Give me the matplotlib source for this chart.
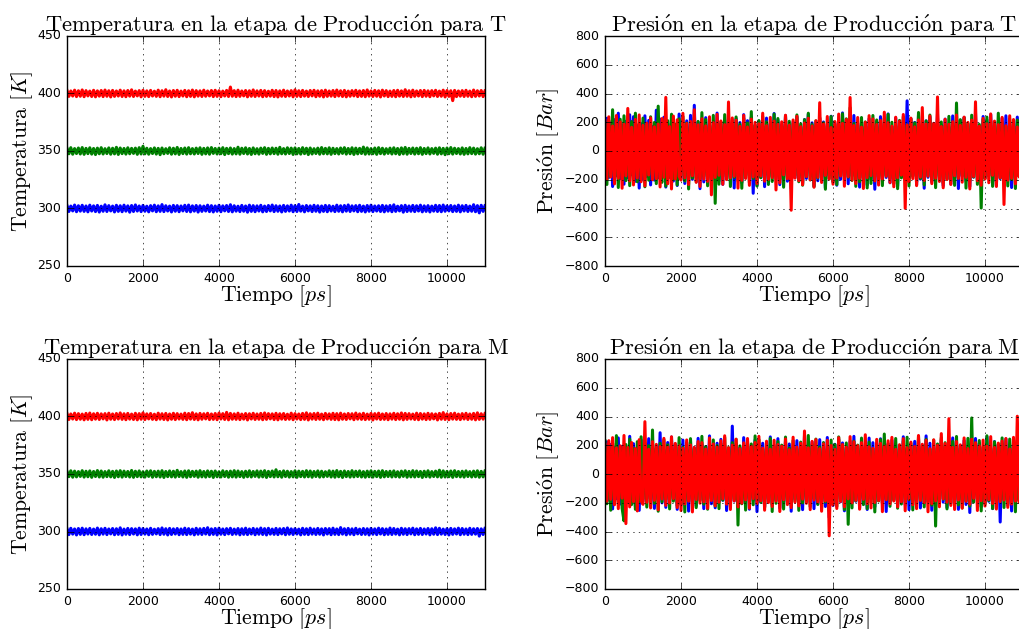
import matplotlib
matplotlib.use("Agg")
import matplotlib.pyplot as plt
import numpy as np

# ---- Temperature series [K], sampled every 50 ps ----
temp_T_300 = [
    302.6, 297.4, 302.1, 297.9, 303.0, 297.2, 302.4, 297.7, 302.8, 297.5,
    302.2, 297.1, 302.9, 297.8, 302.3, 297.3, 302.7, 296.9, 302.0, 297.6,
    303.2, 297.4, 302.5, 297.9, 302.1, 297.0, 302.8, 297.5, 302.4, 297.2,
    302.9, 297.7, 302.3, 296.8, 302.6, 297.4, 303.1, 297.8, 302.2, 297.3,
    302.7, 297.6, 302.0, 297.1, 302.5, 297.9, 302.9, 297.2, 302.3, 297.5,
    303.4, 297.3, 302.4, 297.8, 302.1, 297.0, 302.7, 297.6, 302.5, 297.2,
    302.2, 297.9, 302.8, 297.4, 303.0, 297.1, 302.3, 297.7, 302.6, 296.9,
    302.4, 297.5, 302.1, 297.8, 302.9, 297.3, 302.5, 297.0, 302.2, 297.6,
    302.8, 297.2, 302.3, 297.9, 302.6, 297.4, 303.3, 297.1, 302.4, 297.7,
    302.0, 297.3, 302.7, 297.6, 302.2, 296.8, 302.9, 297.5, 302.5, 297.2,
    302.3, 297.8, 302.8, 297.1, 302.1, 297.4, 302.6, 297.9, 303.0, 297.3,
    302.4, 297.6, 302.2, 297.0, 302.7, 297.5, 302.3, 297.8, 302.9, 297.2,
    302.5, 297.4, 303.5, 297.7, 302.1, 297.1, 302.6, 297.9, 302.3, 297.3,
    302.8, 297.6, 302.4, 296.9, 302.2, 297.5, 302.7, 297.2, 302.5, 297.8,
    302.0, 297.3, 302.9, 297.6, 302.4, 297.1, 302.6, 297.7, 303.1, 297.4,
    302.3, 297.9, 302.5, 297.2, 302.8, 297.5, 302.1, 297.0, 302.6, 297.6,
    302.9, 297.3, 302.2, 297.8, 302.4, 297.4, 302.7, 297.1, 302.3, 297.7,
    302.6, 297.2, 303.2, 297.5, 302.0, 297.9, 302.5, 296.8, 302.8, 297.4,
    302.2, 297.6, 302.7, 297.3, 302.4, 297.8, 302.9, 297.1, 302.3, 297.5,
    302.5, 297.0, 302.1, 297.7, 302.8, 297.4, 302.6, 297.2, 303.0, 297.6,
    302.3, 297.9, 302.6, 297.3, 302.2, 297.5, 302.9, 297.1, 302.4, 297.8,
    302.7, 297.4, 302.1, 297.6, 303.3, 297.2, 302.5, 296.2, 302.8, 297.5,
    302.4,
]
temp_T_350 = [
    352.4, 347.6, 352.9, 347.2, 352.1, 347.8, 352.6, 347.4, 353.0, 347.1,
    352.3, 347.7, 352.8, 347.3, 352.2, 346.9, 352.5, 347.6, 352.9, 347.4,
    352.0, 347.8, 352.7, 347.2, 352.4, 347.5, 353.2, 347.0, 352.6, 347.7,
    352.2, 347.3, 352.8, 347.6, 352.3, 347.9, 352.5, 347.1, 352.9, 347.4,
    354.1, 347.5, 352.4, 347.2, 352.1, 347.8, 352.7, 347.3, 352.3, 346.8,
    352.6, 347.6, 352.0, 347.9, 352.8, 347.2, 352.4, 347.5, 353.1, 347.0,
    352.2, 347.7, 352.6, 347.3, 352.9, 347.6, 352.1, 347.4, 352.5, 347.8,
    352.8, 347.1, 352.3, 347.5, 352.7, 347.2, 353.0, 347.9, 352.2, 347.4,
    352.5, 347.6, 352.9, 346.9, 352.3, 347.7, 352.6, 347.3, 352.1, 347.5,
    353.3, 347.2, 352.4, 347.8, 352.8, 347.4, 352.2, 347.0, 352.7, 347.6,
    352.0, 347.3, 352.5, 347.9, 352.9, 347.1, 352.3, 347.5, 352.6, 347.7,
    352.4, 347.2, 353.2, 347.6, 352.1, 347.4, 352.8, 347.8, 352.5, 347.0,
    352.7, 347.5, 352.2, 347.3, 352.9, 347.7, 352.4, 346.9, 352.6, 347.4,
    352.0, 347.8, 352.5, 347.2, 353.0, 347.6, 352.3, 347.5, 352.8, 347.1,
    352.4, 347.7, 352.1, 347.4, 352.6, 347.9, 352.9, 347.3, 352.2, 347.6,
    352.8, 347.0, 352.5, 347.5, 352.3, 347.8, 353.4, 347.2, 352.7, 347.4,
    352.1, 347.6, 352.6, 347.1, 352.9, 347.7, 352.4, 347.3, 352.0, 347.9,
    352.5, 347.4, 352.8, 347.6, 352.2, 347.0, 352.7, 347.5, 353.1, 347.2,
    352.3, 347.8, 352.6, 347.3, 352.4, 347.6, 352.9, 347.1, 352.2, 347.7,
    352.7, 347.4, 352.1, 347.9, 352.5, 347.2, 352.8, 347.5, 352.3, 346.8,
    352.6, 347.6, 353.0, 347.3, 352.4, 347.8, 352.1, 347.4, 352.7, 347.1,
    352.2, 347.5, 352.9, 347.7, 352.5, 347.3, 352.0, 347.6, 352.8, 347.2,
    352.4,
]
temp_T_400 = [
    402.7, 397.5, 402.2, 397.8, 402.9, 397.3, 402.4, 397.6, 403.1, 397.2,
    402.5, 397.9, 402.1, 397.4, 402.8, 397.1, 402.3, 397.7, 402.6, 397.3,
    403.0, 397.6, 402.4, 397.0, 402.7, 397.5, 402.2, 397.8, 402.9, 397.4,
    402.3, 397.2, 402.6, 397.7, 403.2, 397.4, 402.1, 397.9, 402.5, 397.1,
    402.8, 397.5, 402.3, 397.3, 402.7, 397.8, 402.0, 397.5, 402.9, 397.2,
    402.4, 397.7, 403.3, 397.4, 402.2, 397.0, 402.6, 397.6, 402.8, 397.3,
    402.1, 397.8, 402.7, 397.2, 402.4, 397.5, 403.0, 397.1, 402.5, 397.7,
    402.3, 397.4, 402.9, 397.6, 402.2, 397.9, 402.6, 397.3, 402.8, 397.5,
    402.4, 397.2, 402.1, 397.8, 402.7, 397.4, 405.6, 397.6, 402.5, 397.3,
    402.9, 397.5, 402.2, 397.9, 402.6, 397.1, 402.4, 397.6, 403.1, 397.4,
    402.3, 397.8, 402.7, 397.2, 402.5, 397.5, 402.0, 397.7, 402.8, 397.3,
    402.6, 397.0, 402.3, 397.6, 402.9, 397.4, 402.2, 397.8, 402.5, 397.1,
    403.2, 397.5, 402.4, 397.3, 402.7, 397.7, 402.1, 397.4, 402.6, 397.9,
    402.8, 397.2, 402.3, 397.6, 402.5, 397.0, 402.9, 397.5, 402.2, 397.7,
    402.6, 397.3, 403.0, 397.8, 402.4, 397.4, 402.7, 397.1, 402.1, 397.6,
    402.5, 397.9, 402.8, 397.3, 402.3, 397.5, 402.6, 397.2, 403.1, 397.7,
    402.2, 397.4, 402.7, 397.6, 402.4, 397.0, 402.9, 397.8, 402.5, 397.3,
    402.1, 397.5, 402.6, 397.2, 402.8, 397.7, 402.3, 397.4, 403.3, 397.6,
    402.4, 397.1, 402.9, 397.5, 402.2, 397.8, 402.6, 397.3, 402.7, 397.6,
    402.3, 397.2, 402.5, 397.9, 402.8, 397.4, 402.1, 397.6, 402.9, 397.0,
    402.6, 397.5, 402.4, 393.8, 402.7, 397.3, 402.2, 397.7, 402.5, 397.4,
    402.8, 397.6, 402.1, 397.2, 403.0, 397.5, 402.4, 397.8, 402.6, 397.3,
    402.3,
]
temp_M_300 = [
    302.5, 297.3, 302.8, 297.7, 302.2, 297.0, 302.6, 297.5, 302.9, 297.2,
    302.3, 297.8, 302.7, 297.4, 302.1, 297.6, 303.0, 297.1, 302.4, 297.7,
    302.8, 297.3, 302.2, 297.9, 302.6, 297.2, 302.4, 297.5, 303.2, 297.0,
    302.1, 297.6, 302.7, 297.3, 302.5, 297.8, 302.3, 297.1, 302.9, 297.4,
    302.6, 297.7, 302.2, 297.2, 302.8, 297.5, 302.0, 297.9, 302.5, 297.3,
    303.1, 297.6, 302.4, 297.0, 302.7, 297.4, 302.3, 297.8, 302.6, 297.2,
    302.2, 297.5, 302.9, 297.3, 302.5, 297.7, 302.1, 297.1, 302.8, 297.6,
    302.4, 297.4, 302.7, 297.8, 303.3, 297.2, 302.3, 297.5, 302.6, 297.0,
    302.9, 297.6, 302.2, 297.3, 302.5, 297.9, 302.8, 297.4, 302.1, 297.7,
    302.6, 297.1, 302.4, 297.5, 302.9, 297.3, 302.2, 297.8, 302.7, 297.2,
    302.3, 297.6, 303.0, 297.4, 302.5, 297.0, 302.8, 297.7, 302.1, 297.5,
    302.7, 297.3, 302.4, 297.9, 302.6, 297.2, 303.1, 297.6, 302.3, 297.4,
    302.5, 297.8, 302.1, 297.1, 302.8, 297.5, 302.4, 297.3, 302.9, 297.7,
    302.2, 297.4, 302.7, 297.6, 302.3, 297.0, 302.6, 297.8, 302.5, 297.2,
    302.9, 297.5, 302.2, 297.3, 303.4, 297.7, 302.4, 297.1, 302.7, 297.6,
    302.3, 297.2, 302.8, 297.9, 302.1, 297.4, 302.6, 297.5, 302.4, 297.0,
    302.7, 297.6, 302.3, 297.3, 302.9, 297.8, 302.5, 297.2, 302.2, 297.5,
    303.0, 297.4, 302.6, 297.7, 302.1, 297.1, 302.8, 297.6, 302.4, 297.3,
    302.5, 297.9, 302.9, 297.2, 302.3, 297.5, 302.7, 297.4, 302.2, 297.8,
    302.6, 297.1, 302.4, 297.6, 303.2, 297.3, 302.8, 297.7, 302.1, 297.4,
    302.5, 297.0, 302.7, 297.5, 302.3, 297.8, 302.9, 297.2, 302.6, 297.6,
    302.2, 297.3, 302.8, 297.5, 302.4, 297.7, 302.6, 296.0, 302.3, 297.4,
    302.7,
]
temp_M_350 = [
    352.3, 347.7, 352.8, 347.2, 352.5, 347.5, 352.1, 347.9, 352.9, 347.3,
    352.4, 347.6, 352.7, 347.1, 352.2, 347.8, 353.0, 347.4, 352.6, 347.2,
    352.1, 347.7, 352.8, 347.5, 352.3, 347.0, 352.6, 347.6, 352.9, 347.3,
    352.5, 347.8, 352.2, 347.4, 353.1, 347.1, 352.4, 347.7, 352.7, 347.5,
    352.0, 347.3, 352.6, 347.9, 352.8, 347.2, 352.3, 347.6, 352.5, 347.4,
    352.9, 347.0, 352.2, 347.7, 352.7, 347.5, 352.4, 347.3, 353.2, 347.8,
    352.1, 347.4, 352.6, 347.1, 352.8, 347.6, 352.3, 347.9, 352.5, 347.2,
    352.9, 347.5, 352.2, 347.3, 352.7, 347.7, 352.4, 347.0, 352.6, 347.6,
    352.0, 347.4, 352.8, 347.8, 352.3, 347.2, 352.5, 347.5, 352.9, 347.3,
    352.6, 347.7, 352.1, 347.1, 352.4, 347.6, 352.8, 347.4, 352.2, 347.9,
    352.7, 347.3, 352.5, 347.5, 352.9, 347.0, 352.3, 347.7, 352.6, 347.4,
    353.7, 347.6, 352.2, 347.2, 352.7, 347.8, 352.4, 347.3, 352.1, 347.5,
    352.8, 347.1, 352.5, 347.7, 352.3, 347.4, 352.9, 347.6, 352.6, 347.2,
    352.2, 347.8, 352.7, 347.3, 352.4, 347.5, 352.0, 347.9, 352.8, 347.4,
    352.5, 347.2, 353.0, 347.6, 352.3, 347.0, 352.6, 347.7, 352.2, 347.3,
    352.9, 347.5, 352.4, 347.8, 352.7, 347.4, 352.1, 347.2, 352.5, 347.6,
    352.8, 347.3, 352.3, 347.7, 352.6, 347.1, 352.9, 347.5, 352.2, 347.8,
    352.4, 347.4, 352.7, 347.6, 352.0, 347.3, 352.5, 347.9, 352.8, 347.2,
    352.3, 347.5, 352.9, 347.4, 352.6, 347.7, 352.2, 347.0, 352.4, 347.6,
    352.8, 347.3, 352.1, 347.8, 352.5, 347.5, 353.3, 347.2, 352.7, 347.4,
    352.3, 347.6, 352.6, 347.1, 352.9, 347.7, 352.2, 347.5, 352.4, 347.3,
    352.7, 347.8, 352.1, 347.4, 352.5, 347.6, 352.8, 347.2, 352.3, 347.5,
    352.6,
]
temp_M_400 = [
    402.6, 397.4, 402.2, 397.8, 402.9, 397.3, 402.5, 397.6, 402.1, 397.1,
    402.7, 397.5, 403.0, 397.2, 402.4, 397.7, 402.8, 397.4, 402.3, 397.9,
    402.5, 397.0, 402.9, 397.6, 402.2, 397.3, 402.6, 397.8, 403.1, 397.5,
    402.4, 397.2, 402.7, 397.7, 402.1, 397.4, 402.8, 397.1, 402.5, 397.6,
    403.2, 397.3, 402.3, 397.9, 402.6, 397.5, 402.0, 397.2, 402.9, 397.7,
    402.4, 397.4, 402.7, 397.0, 402.2, 397.6, 402.8, 397.3, 402.5, 397.8,
    402.1, 397.5, 402.9, 397.2, 402.6, 397.7, 403.3, 397.4, 402.3, 397.1,
    402.7, 397.6, 402.4, 397.9, 402.8, 397.3, 402.2, 397.5, 402.6, 397.2,
    403.0, 397.8, 402.5, 397.4, 403.6, 397.1, 402.7, 397.6, 402.3, 397.5,
    402.9, 397.3, 402.1, 397.7, 402.6, 397.0, 402.4, 397.8, 402.8, 397.4,
    402.2, 397.6, 402.7, 397.2, 403.1, 397.5, 402.5, 397.9, 402.3, 397.3,
    402.8, 397.1, 402.4, 397.7, 402.6, 397.4, 402.0, 397.6, 402.9, 397.2,
    402.5, 397.8, 402.2, 397.3, 402.7, 397.5, 403.2, 397.0, 402.4, 397.7,
    402.6, 397.4, 402.9, 397.6, 402.1, 397.2, 402.7, 397.8, 402.3, 397.5,
    402.8, 397.3, 402.5, 397.1, 402.9, 397.6, 402.2, 397.4, 402.6, 397.9,
    402.4, 397.2, 403.0, 397.7, 402.3, 397.5, 402.8, 397.3, 402.1, 397.6,
    402.7, 397.0, 402.5, 397.8, 402.9, 397.4, 402.2, 397.5, 402.6, 397.2,
    402.3, 397.7, 402.8, 397.3, 402.4, 397.6, 403.1, 397.1, 402.7, 397.5,
    402.5, 397.8, 402.1, 397.4, 402.9, 397.2, 402.6, 397.7, 402.3, 397.3,
    402.8, 397.5, 402.4, 397.9, 402.2, 397.0, 402.7, 397.6, 403.4, 397.4,
    402.3, 397.2, 402.6, 397.7, 402.9, 397.5, 402.1, 397.3, 402.5, 397.8,
    402.8, 397.4, 402.2, 397.6, 402.7, 397.1, 403.2, 397.5, 402.4, 397.7,
    402.6,
]

# ---- Pressure series [Bar], sampled every 50 ps ----
press_T_blue = [
    -205, 228, -184, 196, -247, 218, -172, 263, -193, 181,
    -231, 207, -188, 252, -165, 239, -211, 176, -258, 190,
    -199, 245, -178, 213, -236, 171, -203, 284, -187, 222,
    -169, 235, -251, 194, -182, 227, -209, 166, -240, 257,
    -191, 183, -226, 210, -174, 248, -197, 318, -185, 201,
    -262, 173, -215, 232, -189, 205, -243, 178, -170, 264,
    -208, 189, -232, 216, -181, 241, -193, 169, -257, 225,
    -176, 198, -221, 253, -187, 211, -167, 236, -294, 182,
    -239, 207, -185, 173, -248, 229, -202, 192, -178, 261,
    -195, 216, -234, 184, -171, 245, -210, 179, -263, 203,
    -186, 237, -199, 168, -226, 219, -191, 255, -175, 196,
    -244, 177, -207, 231, -183, 202, -256, 188, -169, 242,
    -212, 194, -238, 174, -197, 265, -180, 209, -228, 186,
    -173, 247, -204, 191, -251, 213, -187, 170, -236, 225,
    -198, 182, -266, 206, -176, 239, -209, 195, -184, 258,
    -221, 171, -193, 230, -245, 187, -178, 214, -202, 349,
    -188, 226, -170, 199, -235, 248, -196, 175, -259, 210,
    -183, 237, -215, 190, -173, 256, -204, 181, -242, 222,
    -194, 167, -229, 244, -187, 201, -261, 214, -176, 233,
    -208, 185, -247, 196, -182, 262, -199, 172, -224, 240,
    -189, 218, -171, 253, -213, 179, -238, 206, -192, 227,
    -177, 245, -201, 183, -254, 210, -186, 236, -169, 198,
    -215,
]
press_T_green = [
    198, -233, 214, -177, 287, -195, 182, -254, 221, -169,
    245, -206, 173, -241, 205, -188, 263, -214, 191, -176,
    229, -249, 185, -203, 238, -171, 199, -227, 312, -190,
    -218, 176, -245, 211, -183, 256, -198, 187, -236, 224,
    -172, 241, -209, 194, -264, 179, -188, 232, -215, 206,
    -189, 267, -175, 219, -242, 183, -201, 248, -364, 190,
    -231, 204, -178, 253, -196, 172, -247, 216, -184, 237,
    -207, 186, -259, 228, -173, 195, -220, 274, -191, 178,
    -244, 212, -186, 239, -169, 203, -233, 185, -212, 257,
    -178, 226, -196, 173, -252, 244, -183, 207, -228, 192,
    -170, 251, -214, 189, -238, 218, -175, 263, -201, 184,
    -249, 209, -187, 231, -179, 196, -266, 175, -193, 240,
    -216, 183, -234, 205, -171, 259, -198, 224, -182, 301,
    -205, 191, -246, 177, -214, 233, -189, 202, -257, 169,
    -226, 247, -180, 216, -195, 186, -241, 228, -173, 255,
    -190, 200, -229, 174, -262, 213, -187, 239, -206, 181,
    -243, 222, -178, 196, -215, 268, -191, 184, -236, 209,
    -174, 250, -203, 188, -255, 227, -182, 202, -224, 176,
    -197, 241, -211, 175, -239, 334, -186, 218, -170, 232,
    -258, 193, -208, 249, -181, 207, -232, 185, -397, 219,
    -192, 236, -174, 206, -246, 180, -213, 263, -188, 197,
    -227, 172, -243, 224, -199, 189, -261, 215, -178, 248,
    -204,
]
press_T_red = [
    212, -196, 238, -181, 174, -229, 247, -190, 203, -259,
    186, -173, 296, -208, 165, -236, 220, -188, 251, -214,
    178, -243, 194, -167, 231, -200, 168, -192, 187, -250,
    226, -183, 373, -228, 170, -264, 243, -194, 217, -177,
    -202, 262, -186, 191, -233, 206, -172, 287, -218, 182,
    -247, 224, -195, 175, -211, 238, -305, 197, -184, 255,
    -169, 209, -232, 183, -199, 341, -187, 230, -176, 214,
    -258, 171, -204, 248, -191, 167, -239, 222, -180, 199,
    -226, 189, -173, 263, -210, 176, -197, 234, -185, 208,
    -271, 185, -222, 203, -166, 249, -193, 179, -412, 216,
    -189, 242, -207, 169, -235, 195, -178, 228, -201, 174,
    -252, 211, -183, 336, -219, 188, -170, 240, -196, 163,
    -231, 205, -188, 257, -174, 192, -245, 219, -179, 372,
    -203, 177, -226, 233, -190, 166, -261, 201, -185, 246,
    -171, 223, -208, 184, -237, 212, -194, 270, -176, 197,
    -220, 173, -249, 235, -186, 207, -168, 254, -399, 181,
    -214, 229, -192, 168, -241, 216, -181, 302, -205, 187,
    -175, 244, -227, 193, -189, 376, -212, 170, -256, 221,
    -198, 185, -233, 204, -172, 250, -191, 178, -217, 236,
    -183, 199, -264, 215, -177, 342, -206, 172, -238, 227,
    -195, 189, -221, 258, -169, 208, -247, 183, -186, 234,
    -372, 176, -203, 245, -190, 219, -228, 167, -181, 252,
    -199,
]
press_M_blue = [
    -198, 224, -181, 205, -243, 187, -172, 251, -209, 193,
    -236, 178, -196, 262, -184, 211, -227, 175, -253, 238,
    -189, 203, -170, 246, -215, 182, -239, 196, -178, 287,
    -201, 169, -232, 219, -190, 257, -176, 208, -246, 185,
    -214, 236, -187, 173, -258, 227, -199, 184, -222, 248,
    -180, 206, -241, 191, -171, 265, -207, 179, -235, 214,
    -193, 241, -183, 198, -254, 176, -218, 333, -188, 209,
    -229, 185, -202, 253, -174, 221, -245, 192, -185, 237,
    -262, 177, -196, 214, -230, 189, -172, 258, -211, 200,
    -183, 246, -237, 171, -205, 228, -190, 209, -259, 186,
    -176, 232, -214, 195, -248, 266, -182, 204, -197, 223,
    -241, 180, -208, 239, -186, 173, -226, 254, -303, 191,
    -219, 207, -175, 242, -193, 216, -256, 184, -179, 229,
    -200, 262, -189, 177, -238, 212, -208, 196, -247, 250,
    -173, 218, -229, 190, -182, 245, -204, 170, -261, 213,
    -195, 236, -178, 206, -224, 185, -192, 259, -213, 176,
    -248, 199, -185, 227, -170, 243, -236, 188, -201, 265,
    -187, 214, -252, 181, -219, 204, -174, 238, -196, 193,
    -233, 171, -207, 251, -189, 222, -246, 198, -180, 233,
    -212, 186, -268, 209, -193, 247, -177, 216, -228, 184,
    -201, 259, -190, 175, -241, 226, -185, 203, -334, 212,
    -176, 244, -218, 192, -257, 208, -195, 236, -182, 227,
    -206,
]
press_M_green = [
    231, -207, 186, -252, 214, -179, 267, -196, 192, -238,
    -326, 205, -185, 243, -213, 178, -246, 225, -191, 259,
    -174, 218, -230, 197, -187, 306, -204, 181, -259, 214,
    -193, 238, -177, 203, -243, 226, -189, 172, -221, 253,
    -208, 185, -264, 219, -180, 246, -197, 176, -234, 209,
    -186, 262, -210, 190, -245, 179, -172, 237, -223, 198,
    -241, 211, -182, 254, -199, 184, -229, 218, -176, 242,
    -355, 196, -207, 175, -251, 231, -188, 209, -214, 265,
    -183, 240, -197, 172, -233, 213, -181, 248, -261, 187,
    -204, 226, -176, 201, -244, 257, -192, 180, -218, 233,
    -189, 174, -253, 222, -201, 196, -184, 268, -228, 207,
    -171, 243, -212, 188, -237, 219, -195, 174, -258, 236,
    -199, 205, -226, 258, -180, 191, -247, 216, -350, 182,
    -236, 228, -187, 201, -170, 250, -213, 185, -241, 222,
    -196, 176, -264, 211, -188, 239, -202, 278, -177, 206,
    -225, 192, -183, 247, -238, 173, -209, 229, -192, 256,
    -178, 214, -250, 186, -206, 262, -181, 198, -229, 241,
    -194, 173, -217, 235, -362, 209, -189, 252, -175, 218,
    -243, 194, -200, 227, -182, 261, -215, 179, -236, 204,
    -187, 248, -224, 390, -196, 215, -173, 233, -257, 190,
    -210, 266, -185, 182, -240, 224, -198, 207, -179, 251,
    -233, 176, -204, 243, -191, 218, -263, 196, -185, 231,
    -210,
]
press_M_red = [
    207, -189, 232, -176, 253, -214, 181, -241, 196, -168,
    268, -345, 184, -229, 219, -192, 177, -257, 239, -185,
    -211, 364, -197, 172, -236, 225, -183, 206, -249, 191,
    -174, 248, -218, 187, -202, 259, -171, 213, -233, 196,
    -254, 179, -208, 237, -189, 202, -264, 185, -177, 226,
    -203, 218, -193, 174, -239, 251, -185, 209, -221, 188,
    -196, 231, -172, 266, -210, 183, -247, 201, -187, 242,
    -229, 176, -203, 217, -180, 247, -238, 192, -171, 219,
    -205, 262, -186, 180, -252, 228, -199, 173, -226, 235,
    -188, 205, -261, 193, -178, 244, -213, 169, -234, 256,
    -197, 187, -222, 214, -175, 299, -204, 182, -248, 227,
    -181, 240, -195, 176, -259, 210, -187, 234, -430, 198,
    -216, 171, -240, 253, -191, 205, -228, 186, -173, 260,
    -201, 224, -183, 197, -245, 218, -176, 273, -207, 189,
    -236, 178, -198, 241, -185, 213, -262, 194, -179, 231,
    -208, 255, -188, 172, -229, 204, -193, 246, -256, 183,
    -175, 222, -214, 191, -241, 268, -184, 207, -199, 234,
    -263, 176, -206, 238, -187, 199, -228, 281, -173, 212,
    -196, 385, -219, 185, -247, 226, -181, 203, -238, 251,
    -190, 177, -210, 242, -169, 218, -254, 196, -186, 236,
    -223, 193, -178, 260, -205, 184, -244, 215, -192, 229,
    -181, 247, -232, 174, -209, 255, -188, 402, -197, 221,
    -243,
]

T_MAX = 11000  # length of the production run [ps]

TITLE_TEMP_T = r"$\mathrm{Temperatura\ en\ la\ etapa\ de\ Producci\acute{o}n\ para\ T}$"
TITLE_TEMP_M = r"$\mathrm{Temperatura\ en\ la\ etapa\ de\ Producci\acute{o}n\ para\ M}$"
TITLE_PRES_T = r"$\mathrm{Presi\acute{o}n\ en\ la\ etapa\ de\ Producci\acute{o}n\ para\ T}$"
TITLE_PRES_M = r"$\mathrm{Presi\acute{o}n\ en\ la\ etapa\ de\ Producci\acute{o}n\ para\ M}$"
XLABEL = r"$\mathrm{Tiempo}\ [ps]$"
YLABEL_TEMP = r"$\mathrm{Temperatura}\ [K]$"
YLABEL_PRES = r"$\mathrm{Presi\acute{o}n}\ [Bar]$"

plt.style.use("classic")
plt.rcParams.update({
    "mathtext.fontset": "cm",
    "font.family": "DejaVu Sans",
    "figure.facecolor": "white",
    "savefig.facecolor": "white",
    "xtick.labelsize": 9,
    "ytick.labelsize": 9,
    "axes.linewidth": 1.0,
    "grid.linestyle": ":",
    "grid.color": "black",
    "grid.linewidth": 0.5,
})

W, H = 1019, 629
fig = plt.figure(figsize=(W / 100, H / 100), dpi=100)


def px_axes(x0, x1, y0, y1):
    return fig.add_axes([x0 / W, 1 - y1 / H, (x1 - x0) / W, (y1 - y0) / H])


TITLE_SIZE = 16.2
LABEL_SIZE = 15.7
LW_TEMP = 2.2
LW_PRES = 2.2
COLORS = ["b", "g", "r"]
XTICKS = [0, 2000, 4000, 6000, 8000, 10000]


def style_panel(ax, title, ylabel):
    ax.set_xlim(0, T_MAX)
    ax.set_xticks(XTICKS)
    ax.grid(True)
    ax.set_title(title, fontsize=TITLE_SIZE, pad=3)
    ax.set_xlabel(XLABEL, fontsize=LABEL_SIZE, labelpad=-1)
    ax.set_ylabel(ylabel, fontsize=LABEL_SIZE, labelpad=2)


def temp_panel(ax, series, title):
    for vals, c in zip(series, COLORS):
        t = np.linspace(0, T_MAX, len(vals))
        ax.plot(t, vals, color=c, lw=LW_TEMP)
    ax.set_ylim(250, 450)
    ax.set_yticks([250, 300, 350, 400, 450])
    style_panel(ax, title, YLABEL_TEMP)


def pres_panel(ax, series, title):
    for vals, c in zip(series, COLORS):
        t = np.linspace(0, T_MAX, len(vals))
        ax.plot(t, vals, color=c, lw=LW_PRES)
    ax.set_ylim(-800, 800)
    ax.set_yticks(np.arange(-800, 801, 200))
    style_panel(ax, title, YLABEL_PRES)


ax1 = px_axes(67, 485, 36, 266)
ax2 = px_axes(605, 1023, 36, 266)
ax3 = px_axes(67, 485, 359, 589)
ax4 = px_axes(605, 1023, 359, 589)

temp_panel(ax1, [temp_T_300, temp_T_350, temp_T_400], TITLE_TEMP_T)
pres_panel(ax2, [press_T_blue, press_T_green, press_T_red], TITLE_PRES_T)
temp_panel(ax3, [temp_M_300, temp_M_350, temp_M_400], TITLE_TEMP_M)
pres_panel(ax4, [press_M_blue, press_M_green, press_M_red], TITLE_PRES_M)

fig.savefig("out.png", dpi=100)
